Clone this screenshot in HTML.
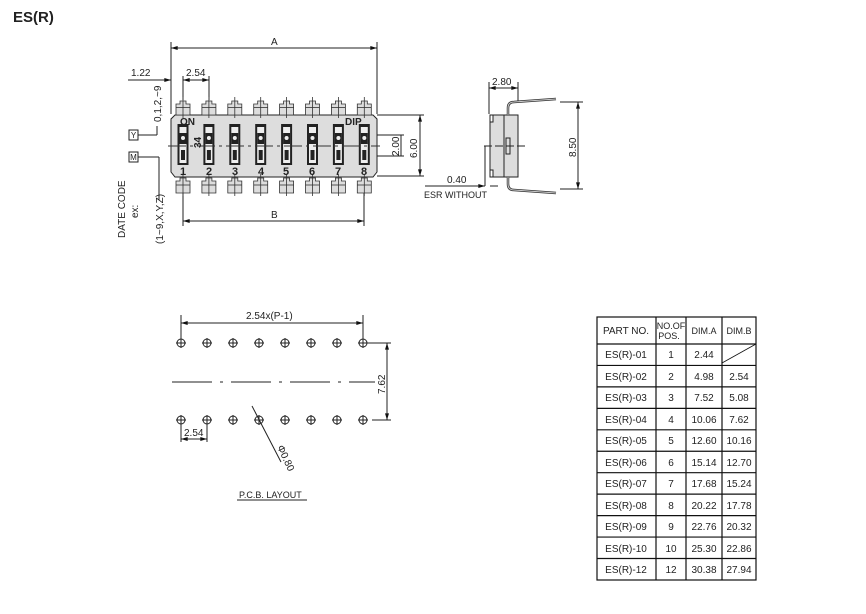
<!DOCTYPE html>
<html><head><meta charset="utf-8"><style>
body{margin:0;background:#fff;}
svg{display:block;font-family:"Liberation Sans",sans-serif;}
.t{font-size:10px;fill:#222;}
.tt{font-size:10px;fill:#222;text-anchor:middle;}
</style></head><body>
<svg id="s" width="866" height="614" viewBox="0 0 866 614" xmlns="http://www.w3.org/2000/svg">
<defs>
<marker id="ar" viewBox="0 0 10 6" refX="10" refY="3" markerWidth="8" markerHeight="4" orient="auto-start-reverse"><path d="M0,0L10,3L0,6z" fill="#111"/></marker>
</defs>
<text x="13" y="22" style="font-size:15px;font-weight:bold" fill="#222">ES(R)</text>

<g stroke="#222" stroke-width="1" fill="none">
<line x1="171" y1="42" x2="171" y2="114"/><line x1="377" y1="42" x2="377" y2="114"/>
<line x1="171" y1="48" x2="377" y2="48" marker-start="url(#ar)" marker-end="url(#ar)"/>
<line x1="128" y1="80" x2="171" y2="80" marker-end="url(#ar)"/>
<line x1="183" y1="80" x2="209" y2="80" marker-start="url(#ar)" marker-end="url(#ar)"/>
<line x1="183" y1="76" x2="183" y2="100"/><line x1="209" y1="76" x2="209" y2="100"/>
<line x1="183" y1="193" x2="183" y2="226"/><line x1="364" y1="193" x2="364" y2="226"/>
<line x1="183" y1="221" x2="364" y2="221" marker-start="url(#ar)" marker-end="url(#ar)"/>
<line x1="377" y1="115" x2="424" y2="115"/><line x1="377" y1="176" x2="424" y2="176"/>
<line x1="420" y1="115" x2="420" y2="176" marker-start="url(#ar)" marker-end="url(#ar)"/>
<line x1="368" y1="135" x2="404" y2="135"/><line x1="368" y1="156" x2="404" y2="156"/>
<line x1="401" y1="135" x2="401" y2="156"/>
<line x1="138" y1="135" x2="157" y2="135"/><line x1="157" y1="135" x2="157" y2="126"/>
<line x1="138" y1="157" x2="159" y2="157"/><line x1="159" y1="157" x2="159" y2="200"/>
</g>
<rect x="129" y="130" width="9" height="10" fill="none" stroke="#222"/>
<text x="133.5" y="138" class="tt" style="font-size:8px">Y</text>
<rect x="129" y="152" width="9" height="10" fill="none" stroke="#222"/>
<text x="133.5" y="160" class="tt" style="font-size:8px">M</text>
<text class="t" transform="translate(161,122) rotate(-90)" style="font-size:10px">0,1,2,~9</text>
<text class="t" transform="translate(125,238) rotate(-90)" style="font-size:10px">DATE CODE</text>
<text class="t" transform="translate(138,218) rotate(-90)" style="font-size:10px">ex:</text>
<text class="t" transform="translate(163,244) rotate(-90)" style="font-size:10px">(1~9,X,Y,Z)</text>
<text x="131" y="76" class="t">1.22</text>
<text x="186" y="76" class="t">2.54</text>
<text x="271" y="45" class="t">A</text>
<text x="271" y="218" class="t">B</text>
<text class="t" transform="translate(399,156) rotate(-90)">2.00</text>
<text class="t" transform="translate(417,158) rotate(-90)">6.00</text>

<path d="M175,115H373L377,119V172L373,177H175L171,172V119Z" fill="#ddd" stroke="#222"/>
<g id="sw"></g>
<line x1="168" y1="146" x2="380" y2="146" stroke="#333" stroke-dasharray="18,4,3,4"/>
<text x="180" y="125" style="font-size:10px;font-weight:bold" fill="#222">ON</text>
<text x="345" y="125" style="font-size:10px;font-weight:bold" fill="#222">DIP</text>
<text transform="translate(201,148) rotate(-90)" style="font-size:10px;font-weight:bold" fill="#222">34</text>
<g style="font-size:11px;font-weight:bold" fill="#222" text-anchor="middle">
<text x="183" y="175">1</text><text x="209" y="175">2</text><text x="235" y="175">3</text><text x="261" y="175">4</text><text x="286" y="175">5</text><text x="312" y="175">6</text><text x="338" y="175">7</text><text x="364" y="175">8</text>
</g>

<g stroke="#222" fill="none">
<rect x="490" y="115" width="28" height="62" fill="#ddd"/>
<line x1="504" y1="115" x2="504" y2="177"/>
<rect x="490" y="115" width="3" height="7" fill="#fff"/>
<rect x="490" y="170" width="3" height="7" fill="#fff"/>
<rect x="506" y="138" width="4" height="16"/>
<line x1="484" y1="146" x2="526" y2="146" stroke-dasharray="8,3"/>
<path d="M508,115 V108 Q508,102 514,102 L556,99" stroke-width="2.5" stroke="#333"/>
<path d="M508,115 V108 Q508,102 514,102 L556,99" stroke-width="1" stroke="#ccc"/>
<path d="M508,177 V184 Q508,190 514,190 L556,193" stroke-width="2.5" stroke="#333"/>
<path d="M508,177 V184 Q508,190 514,190 L556,193" stroke-width="1" stroke="#ccc"/>
<line x1="489" y1="82" x2="489" y2="114"/><line x1="518" y1="82" x2="518" y2="101"/>
<line x1="489" y1="88" x2="518" y2="88" marker-start="url(#ar)" marker-end="url(#ar)"/>
<line x1="560" y1="102" x2="583" y2="102"/><line x1="560" y1="189" x2="583" y2="189"/>
<line x1="578" y1="102" x2="578" y2="189" marker-start="url(#ar)" marker-end="url(#ar)"/>
<line x1="485" y1="146" x2="485" y2="186"/>
<line x1="425" y1="186" x2="485" y2="186" marker-end="url(#ar)"/>
<line x1="490" y1="186" x2="498" y2="186"/>
</g>
<text x="492" y="85" class="t">2.80</text>
<text class="t" transform="translate(576,157) rotate(-90)">8.50</text>
<text x="447" y="183" class="t">0.40</text>
<text x="424" y="198" class="t" style="font-size:9px">ESR WITHOUT</text>

<g stroke="#222" fill="none">
<line x1="181" y1="315" x2="181" y2="341"/><line x1="363" y1="315" x2="363" y2="341"/>
<line x1="181" y1="323" x2="363" y2="323" marker-start="url(#ar)" marker-end="url(#ar)"/>
<line x1="372" y1="343" x2="391" y2="343"/><line x1="372" y1="420" x2="391" y2="420"/>
<line x1="387" y1="343" x2="387" y2="420" marker-start="url(#ar)" marker-end="url(#ar)"/>
<line x1="172" y1="382" x2="375" y2="382" stroke-dasharray="40,8,3,8"/>
<line x1="181" y1="425" x2="181" y2="442"/><line x1="207" y1="425" x2="207" y2="442"/>
<line x1="181" y1="439" x2="207" y2="439" marker-start="url(#ar)" marker-end="url(#ar)"/>
<line x1="252" y1="406" x2="281" y2="462"/>
<line x1="237" y1="500" x2="307" y2="500"/>
</g>
<g id="holes"></g>
<text x="246" y="319" class="t">2.54x(P-1)</text>
<text class="t" transform="translate(385,394) rotate(-90)">7.62</text>
<text x="184" y="436" class="t">2.54</text>
<text class="t" transform="translate(277,447) rotate(65)">Φ0.80</text>
<text x="239" y="498" class="t" style="font-size:9px">P.C.B. LAYOUT</text>

<g stroke="#111" stroke-width="1.2" fill="none" id="tbl">
<rect x="597" y="317" width="159" height="263"/>
<line x1="656" y1="317" x2="656" y2="580"/><line x1="686" y1="317" x2="686" y2="580"/><line x1="722" y1="317" x2="722" y2="580"/>
<line x1="722" y1="363" x2="756" y2="344" stroke-width="0.8"/>
</g>
<g font-size="10" fill="#222" text-anchor="middle">
<text x="626" y="334">PART  NO.</text>
<text x="671" y="329" font-size="9">NO.OF</text><text x="669" y="339" font-size="9">POS.</text>
<text x="704" y="334" font-size="9">DIM.A</text><text x="739" y="334" font-size="9">DIM.B</text>
</g>
<g id="rows" font-size="10" fill="#222" text-anchor="middle">
<text x="626" y="358">ES(R)-01</text><text x="671" y="358">1</text><text x="704" y="358">2.44</text>
<text x="626" y="380">ES(R)-02</text><text x="671" y="380">2</text><text x="704" y="380">4.98</text><text x="739" y="380">2.54</text>
<text x="626" y="401">ES(R)-03</text><text x="671" y="401">3</text><text x="704" y="401">7.52</text><text x="739" y="401">5.08</text>
<text x="626" y="423">ES(R)-04</text><text x="671" y="423">4</text><text x="704" y="423">10.06</text><text x="739" y="423">7.62</text>
<text x="626" y="444">ES(R)-05</text><text x="671" y="444">5</text><text x="704" y="444">12.60</text><text x="739" y="444">10.16</text>
<text x="626" y="466">ES(R)-06</text><text x="671" y="466">6</text><text x="704" y="466">15.14</text><text x="739" y="466">12.70</text>
<text x="626" y="487">ES(R)-07</text><text x="671" y="487">7</text><text x="704" y="487">17.68</text><text x="739" y="487">15.24</text>
<text x="626" y="509">ES(R)-08</text><text x="671" y="509">8</text><text x="704" y="509">20.22</text><text x="739" y="509">17.78</text>
<text x="626" y="530">ES(R)-09</text><text x="671" y="530">9</text><text x="704" y="530">22.76</text><text x="739" y="530">20.32</text>
<text x="626" y="552">ES(R)-10</text><text x="671" y="552">10</text><text x="704" y="552">25.30</text><text x="739" y="552">22.86</text>
<text x="626" y="573">ES(R)-12</text><text x="671" y="573">12</text><text x="704" y="573">30.38</text><text x="739" y="573">27.94</text>
</g>
</svg>
<script>
var NS="http://www.w3.org/2000/svg";
function el(p,t,a){var e=document.createElementNS(NS,t);for(var k in a)e.setAttribute(k,a[k]);p.appendChild(e);return e;}
var sw=document.getElementById("sw");
var tbl=document.getElementById("tbl");
for(var r=0;r<11;r++){var y=344+r*21.45;el(tbl,"line",{x1:597,y1:y,x2:756,y2:y});}
for(var i=0;i<8;i++){
 var cx=183+i*25.9;
 [[100,115],[177,193]].forEach(function(p){
  var y0=p[0],y1=p[1];
  el(sw,"path",{d:"M"+(cx-7)+","+(y0+4)+"h4v-3h6v3h4v"+(y1-y0-4)+"h-14z",fill:"#ddd",stroke:"#333","stroke-width":0.8});
  el(sw,"line",{x1:cx,y1:y0-3,x2:cx,y2:y1+3,stroke:"#333","stroke-width":0.8});
  el(sw,"line",{x1:cx-7,y1:(y0+y1)/2,x2:cx+7,y2:(y0+y1)/2,stroke:"#333","stroke-width":0.8});
 });
 el(sw,"rect",{x:cx-5.5,y:124,width:11,height:41,fill:"#222"});
 el(sw,"rect",{x:cx-3.5,y:127,width:7,height:36,fill:"#eee"});
 el(sw,"rect",{x:cx-3.5,y:133,width:7,height:11,fill:"#222"});
 el(sw,"circle",{cx:cx,cy:138,r:2,fill:"#eee"});
 el(sw,"rect",{x:cx-2,y:150,width:4,height:10,fill:"#222"});
}
var h=document.getElementById("holes");
for(var i=0;i<8;i++){var cx=181+i*26;[343,420].forEach(function(cy){
 el(h,"circle",{cx:cx,cy:cy,r:4,fill:"none",stroke:"#222"});
 el(h,"line",{x1:cx-5,y1:cy,x2:cx+5,y2:cy,stroke:"#222"});
 el(h,"line",{x1:cx,y1:cy-5,x2:cx,y2:cy+5,stroke:"#222"});
});}
el(h,"line",{x1:367,y1:343,x2:385,y2:343,stroke:"#222"});
</script>
</body></html>
